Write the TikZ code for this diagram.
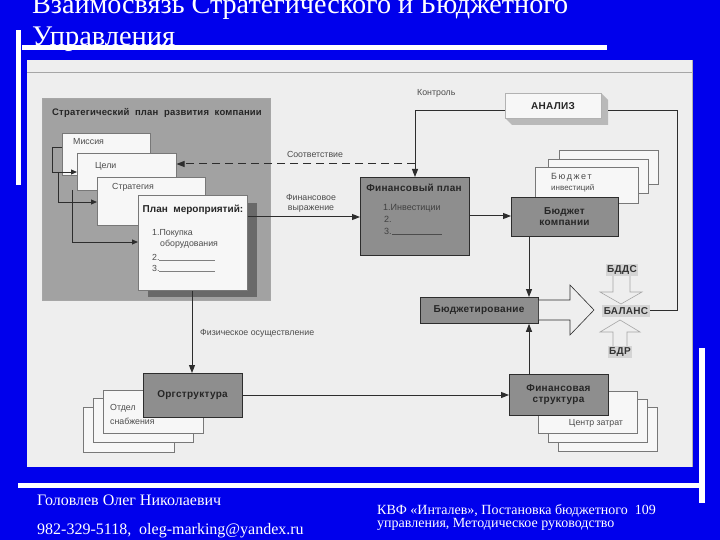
\documentclass[tikz,border=0pt]{standalone}
\usepackage{fontspec}
\usepackage{graphicx}
\setmainfont{Liberation Serif}
\setsansfont{Liberation Sans}
\usetikzlibrary{arrows.meta,calc}
\definecolor{bg}{RGB}{0,0,236}
\definecolor{panel}{RGB}{238,238,238}
\definecolor{stratgray}{RGB}{162,162,162}
\definecolor{boxgray}{RGB}{142,142,142}
\definecolor{shadowgray}{RGB}{105,105,105}
\definecolor{cardfill}{RGB}{247,247,247}
\definecolor{cardline}{RGB}{120,120,120}
\definecolor{lblgray}{RGB}{212,212,212}
\definecolor{ink}{RGB}{45,45,45}
\begin{document}
\begin{tikzpicture}[x=1pt,y=-1pt,
  card/.style={draw=cardline,fill=cardfill,line width=0.5pt,inner sep=0pt,anchor=north west},
  dbox/.style={draw=ink,fill=boxgray,line width=0.8pt,inner sep=0pt,anchor=north west},
  arr/.style={draw=ink,line width=1pt,-{Triangle[length=8pt,width=6pt]}},
  ln/.style={draw=ink,line width=1pt},
  bt/.style={font=\sffamily\bfseries\fontsize{10}{11}\selectfont\addfontfeature{LetterSpace=3},text=black!85,align=center,inner sep=0pt},
  lbl/.style={font=\sffamily\fontsize{8.8}{10}\selectfont,text=black!70,inner sep=0pt},
  tlbl/.style={font=\sffamily\bfseries\fontsize{10}{11}\selectfont\addfontfeature{LetterSpace=3},text=black!80,fill=lblgray,inner xsep=1.5pt,inner ysep=0pt,minimum height=12pt},
  foot/.style={font=\fontsize{16}{18}\selectfont,text=white,inner sep=0pt,anchor=base west}
]
\fill[bg] (0,0) rectangle (720,540);
\useasboundingbox (0,0) rectangle (720,540);

% title
\node[anchor=base west,text=white,inner sep=0pt] (t1) at (32,14) {\resizebox{536pt}{!}{Взаимосвязь Стратегического и Бюджетного}};
\node[anchor=base west,text=white,inner sep=0pt] (t2) at (32,46) {\resizebox{143pt}{!}{Управления}};

% white bars
\fill[white] (22,45) rectangle (607,50);
\fill[white] (16,30) rectangle (21,185);
\fill[white] (18,483) rectangle (700,488);
\fill[white] (699,348) rectangle (705,503);

% panel
\fill[panel] (27,60) rectangle (693,467);
\draw[gray!70,line width=0.6pt] (27,72) -- (693,72);
\draw[gray!60,line width=0.6pt] (692,60) -- (692,467);

% strategic plan
\node[draw=gray!70,fill=stratgray,minimum width=228pt,minimum height=202pt,anchor=north west,inner sep=0pt] (strat) at (42,98) {};
\node[bt,font=\sffamily\bfseries\fontsize{9.5}{10}\selectfont\addfontfeature{LetterSpace=2}] (strattitle) at (157,113) {Стратегический\ \ план\ \ развития\ \ компании};
\node[card,minimum width=88pt,minimum height=42pt] (mission) at (62,133) {};
\node[lbl,anchor=west] at (73,142) {Миссия};
\node[card,minimum width=99pt,minimum height=37pt] (goals) at (77,153) {};
\node[lbl,anchor=west] at (95,166) {Цели};
\node[card,minimum width=108pt,minimum height=48pt] (strategy) at (97,177) {};
\node[lbl,anchor=west] at (112,187) {Стратегия};
\fill[shadowgray] (148,203) rectangle (257,297);
\node[card,minimum width=109pt,minimum height=95pt] (plan) at (138,195) {};
\node[bt,font=\sffamily\bfseries\fontsize{10}{11}\selectfont] at (193,210) {План\ \ мероприятий:};
\node[lbl,anchor=west] at (152,233) {1.Покупка};
\node[lbl,anchor=west] at (160,244) {оборудования};
\node[lbl,anchor=west] (p2) at (152,257) {2.};
\node[lbl,anchor=west] (p3) at (152,268) {3.};
\draw[gray,line width=0.5pt] (159,260) -- (215,260);
\draw[gray,line width=0.5pt] (159,271) -- (215,271);

% small arrows inside strategic plan
\draw[arr,line width=0.9pt,-{Triangle[length=6pt,width=5pt]}] (mission.west |- 0,147) -- (52,147) -- (52,172) -- (goals.west |- 0,172);
\draw[arr,line width=0.9pt,-{Triangle[length=6pt,width=5pt]}] (58,172) -- (58,202) -- (strategy.west |- 0,202);
\draw[arr,line width=0.9pt,-{Triangle[length=6pt,width=5pt]}] (72,190) -- (72,242) -- (plan.west |- 0,242);

% analysis
\fill[gray!55] (601,93) -- (608,100) -- (608,125) -- (512,125) -- (505,118) -- (601,118) -- cycle;
\node[draw=gray!60,fill=cardfill,minimum width=96pt,minimum height=25pt,anchor=north west,inner sep=0pt,line width=0.5pt] (anal) at (505,93) {};
\node[bt] at (553,106) {АНАЛИЗ};

% financial plan
\node[dbox,minimum width=109pt,minimum height=78pt] (finplan) at (360,177) {};
\node[bt] at (414,188) {Финансовый\ план};
\node[lbl,anchor=west,text=black!75,font=\sffamily\fontsize{9}{10}\selectfont] at (383,208) {1.Инвестиции};
\node[lbl,anchor=west,text=black!75,font=\sffamily\fontsize{9}{10}\selectfont] at (384,219) {2.};
\node[lbl,anchor=west,text=black!75,font=\sffamily\fontsize{9}{10}\selectfont] at (384,231) {3.};
\draw[black!70,line width=0.5pt] (392,234) -- (442,234);

% budget cards
\node[card,minimum width=99pt,minimum height=34pt] (bc3) at (559,150) {};
\node[card,minimum width=100pt,minimum height=34pt] (bc2) at (548,159) {};
\node[card,minimum width=103pt,minimum height=36pt] (bc1) at (535,167) {};
\node[lbl,anchor=west,font=\sffamily\fontsize{9}{10}\selectfont] at (551,177) {Б\,ю\,д\,ж\,е\,т};
\node[lbl,anchor=west,font=\sffamily\fontsize{8}{9}\selectfont] at (551,188) {инвестиций};
\node[dbox,minimum width=107pt,minimum height=39pt] (budget) at (511,197) {};
\node[bt] at (564.5,216.5) {Бюджет\\компании};

% budgeting
\node[dbox,minimum width=118pt,minimum height=26pt] (budgeting) at (420,297) {};
\node[bt] at (479,310) {Бюджетирование};

% block arrow
\draw[ink,line width=0.6pt,fill=panel] (budgeting.east |- 0,300) -- (570,300) -- (570,285) -- (594,310) -- (570,335) -- (570,320) -- (budgeting.east |- 0,320);

% balance area
\node[tlbl] (balance) at (626,311) {БАЛАНС};
\node[tlbl] (bdds) at (622,270) {БДДС};
\node[tlbl] (bdr) at (620,352) {БДР};
\draw[gray!70,line width=0.6pt] (bdds.south -| 613,0) -- (613,292) -- (600,292) -- (621,304) -- (642,292) -- (630,292) -- (bdds.south -| 630,0);
\draw[gray!70,line width=0.6pt] (bdr.north -| 613,0) -- (613,332) -- (600,332) -- (620,320) -- (640,332) -- (627,332) -- (bdr.north -| 627,0);

% org structure
\node[card,minimum width=91pt,minimum height=45pt] (oc3) at (83,407) {};
\node[card,minimum width=100pt,minimum height=44pt] (oc2) at (93,398) {};
\node[card,minimum width=100pt,minimum height=43pt] (oc1) at (103,390) {};
\node[lbl,anchor=west] at (110,408) {Отдел};
\node[lbl,anchor=west] at (110,421) {снабжения};
\node[dbox,minimum width=99pt,minimum height=44pt] (org) at (143,373) {};
\node[bt] at (192.5,395) {Оргструктура};

% fin structure
\node[card,minimum width=99pt,minimum height=44pt] (fc3) at (558,407) {};
\node[card,minimum width=99pt,minimum height=43pt] (fc2) at (548,399) {};
\node[card,minimum width=99pt,minimum height=42pt] (fc1) at (538,391) {};
\node[lbl] at (596,423) {Центр затрат};
\node[dbox,minimum width=99pt,minimum height=41pt] (finstr) at (509,374) {};
\node[bt] at (558.5,394.5) {Финансовая\\структура};

% connectors
\draw[arr] (anal.west |- 0,111) -- (415,111) -- (finplan.north -| 415,0);
\node[lbl,anchor=west] at (417,93) {Контроль};
\draw[ln] (608,111) -- (677,111) -- (677,310) -- (balance.east |- 0,310);
\draw[arr,dashed,dash pattern=on 8pt off 5pt] (415,164) -- (goals.east |- 0,164);
\node[lbl] at (315,154) {Соответствие};
\draw[arr] (plan.east |- 0,217) -- (finplan.west |- 0,217);
\node[lbl,align=center] at (311,203) {Финансовое\\выражение};
\draw[arr] (finplan.east |- 0,216) -- (budget.west |- 0,216);
\draw[arr] (budget.south -| 529,0) -- (budgeting.north -| 529,0);
\draw[arr] (finstr.north -| 529,0) -- (budgeting.south -| 529,0);
\draw[arr] (plan.south -| 192,0) -- (org.north -| 192,0);
\node[lbl,anchor=west] at (200,333) {Физическое осуществление};
\draw[arr] (org.east |- 0,395) -- (finstr.west |- 0,395);

% footer
\node[foot] at (37,505) {Головлев Олег Николаевич};
\node[foot] at (37,534) {982-329-5118,\ \ oleg-marking@yandex.ru};
\node[foot,font=\fontsize{14}{16}\selectfont] at (377,514) {КВФ «Инталев», Постановка бюджетного\ \ 109};
\node[foot,font=\fontsize{14}{16}\selectfont] at (377,527) {управления, Методическое руководство};
\end{tikzpicture}
\end{document}
